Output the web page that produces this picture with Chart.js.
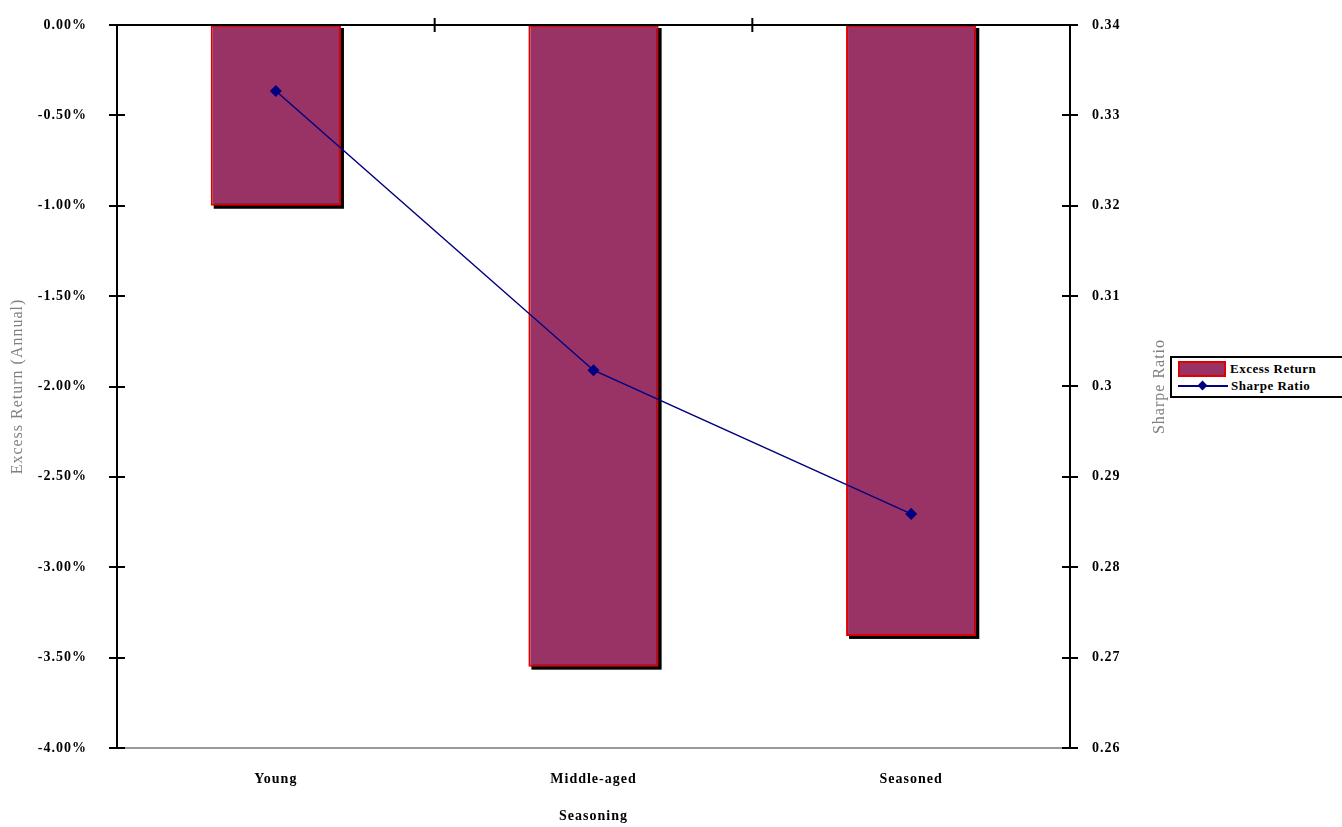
<!DOCTYPE html>
<html>
<head><meta charset="utf-8">
<title>Excess Return and Sharpe Ratio by Seasoning</title>
<script src="https://cdn.jsdelivr.net/npm/chart.js"></script>
<style>
  body { margin: 0; background: #fff; overflow: hidden; }
  #wrap { position: relative; width: 1342px; height: 827px; }
  #legend {
    position: absolute; left: 1170px; top: 356px; width: 190px; height: 38px;
    border: 2px solid #000; background: #fff;
    font: bold 13px "Liberation Serif", serif; letter-spacing: 0.5px; color: #000;
  }
  .item { position: absolute; left: 6px; height: 16px; display: flex; align-items: center; }
  .swatch { width: 44px; height: 12px; background: #993366; border: 2px solid #e00000; margin-right: 4px; }
  .lineSw { position: relative; width: 50px; height: 16px; margin-right: 3px; }
  .lineSw:before { content: ""; position: absolute; left: 0; right: 0; top: 7px; height: 2px; background: #000080; }
  .lineSw:after { content: ""; position: absolute; left: 21px; top: 4px; width: 7px; height: 7px; background: #000080; transform: rotate(45deg); }
</style>
</head>
<body>
<div id="wrap">
  <canvas id="chart" width="1342" height="827"></canvas>
  <div id="legend">
    <div class="item" style="top:3px"><span class="swatch"></span><span id="lg0"></span></div>
    <div class="item" style="top:20px"><span class="lineSw"></span><span id="lg1"></span></div>
  </div>
</div>
<script>
// data
var categories = ['Young', 'Middle-aged', 'Seasoned'];
var excessReturn = [-1.00, -3.55, -3.38];   // percent
var sharpeRatio = [0.3327, 0.3018, 0.2859];
var leftTicks = { min: -4, max: 0, step: 0.5 };
var rightTicks = { min: 0.26, max: 0.34, step: 0.01 };
var seriesNames = ['Excess Return', 'Sharpe Ratio'];
var xTitle = 'Seasoning';
var leftTitle = 'Excess Return (Annual)';
var rightTitle = 'Sharpe Ratio';

document.getElementById('lg0').textContent = seriesNames[0];
document.getElementById('lg1').textContent = seriesNames[1];

var tickFont = { family: 'Liberation Serif', size: 14, weight: 'bold' };
var titleFont = { family: 'Liberation Serif', size: 16 };

// black drop shadow behind each bar, taken from the bar elements
var barShadow = {
  id: 'barShadow',
  beforeDatasetDraw: function(chart, args) {
    if (args.index !== 0) return;
    var c = chart.ctx;
    c.save();
    c.fillStyle = '#000';
    args.meta.data.forEach(function(bar) {
      var top = Math.min(bar.y, bar.base), bot = Math.max(bar.y, bar.base);
      c.fillRect(bar.x - bar.width / 2 + 3, top + 3, bar.width, bot - top);
    });
    c.restore();
  }
};

// axis lines, crossing tick marks and the right-hand title
var axesExtra = {
  id: 'axesExtra',
  beforeDraw: function(chart) { chart.ctx.letterSpacing = '1px'; },
  afterDraw: function(chart) {
    var c = chart.ctx, a = chart.chartArea;
    var y = chart.scales.y, y2 = chart.scales.y2, x = chart.scales.x;
    c.save();
    c.strokeStyle = '#000';
    c.lineWidth = 2;
    c.beginPath();
    y.ticks.forEach(function(t) {
      var p = Math.round(y.getPixelForValue(t.value));
      c.moveTo(a.left - 8, p); c.lineTo(a.left + 8, p);
    });
    y2.ticks.forEach(function(t) {
      var p = Math.round(y2.getPixelForValue(t.value));
      c.moveTo(a.right - 8, p); c.lineTo(a.right + 8, p);
    });
    // zero line at the top
    var z = Math.round(y.getPixelForValue(0));
    c.moveTo(a.left, z); c.lineTo(a.right, z);
    for (var i = 0; i < categories.length - 1; i++) {
      var b = (x.getPixelForValue(i) + x.getPixelForValue(i + 1)) / 2;
      c.moveTo(b, z - 7); c.lineTo(b, z + 7);
    }
    c.stroke();
    // right title, reading bottom to top
    c.fillStyle = '#808080';
    c.font = '16px "Liberation Serif"';
    c.letterSpacing = '1px';
    c.textAlign = 'center';
    c.textBaseline = 'middle';
    c.translate(a.right + 90, (a.top + a.bottom) / 2);
    c.rotate(-Math.PI / 2);
    c.fillText(rightTitle, 0, 0);
    c.restore();
  }
};

function noVPad(s) { s.paddingTop = 0; s.paddingBottom = 0; }

new Chart(document.getElementById('chart'), {
  type: 'bar',
  data: {
    labels: categories,
    datasets: [
      {
        label: seriesNames[0],
        data: excessReturn,
        yAxisID: 'y',
        backgroundColor: '#993366',
        borderColor: '#e00000',
        borderWidth: 2,
        borderSkipped: false,
        categoryPercentage: 1,
        barPercentage: 0.41,
        order: 1
      },
      {
        type: 'line',
        label: seriesNames[1],
        data: sharpeRatio,
        yAxisID: 'y2',
        borderColor: '#000080',
        backgroundColor: '#000080',
        borderWidth: 1.5,
        pointStyle: 'rectRot',
        pointRadius: 5,
        tension: 0,
        order: 0
      }
    ]
  },
  options: {
    responsive: false,
    animation: false,
    layout: { padding: { top: 25, left: 0, right: 172, bottom: 0 } },
    plugins: { legend: { display: false }, tooltip: { enabled: false } },
    scales: {
      x: {
        grid: { display: false },
        border: { color: '#999', width: 2 },
        ticks: { color: '#000', font: tickFont, padding: 15 },
        title: { display: true, text: xTitle, color: '#000', font: tickFont, padding: { top: 0, bottom: 2 } },
        afterFit: function(s) { s.height = 79; }
      },
      y: {
        position: 'left',
        min: leftTicks.min, max: leftTicks.max,
        grid: { display: false },
        border: { color: '#000', width: 2 },
        ticks: {
          stepSize: leftTicks.step, color: '#000', font: tickFont, padding: 22,
          callback: function(v) { return v.toFixed(2) + '%'; }
        },
        title: { display: true, text: leftTitle, color: '#808080', font: titleFont, padding: { top: 8, bottom: 0 } },
        afterFit: function(s) { s.width = 117; noVPad(s); }
      },
      y2: {
        position: 'right',
        min: rightTicks.min, max: rightTicks.max,
        grid: { display: false },
        border: { color: '#000', width: 2 },
        ticks: {
          stepSize: rightTicks.step, color: '#000', font: tickFont, padding: 14,
          callback: function(v) { return String(Number(v.toFixed(2))); }
        },
        afterFit: function(s) { s.width = 100; noVPad(s); }
      }
    }
  },
  plugins: [barShadow, axesExtra]
});
</script>
</body>
</html>
